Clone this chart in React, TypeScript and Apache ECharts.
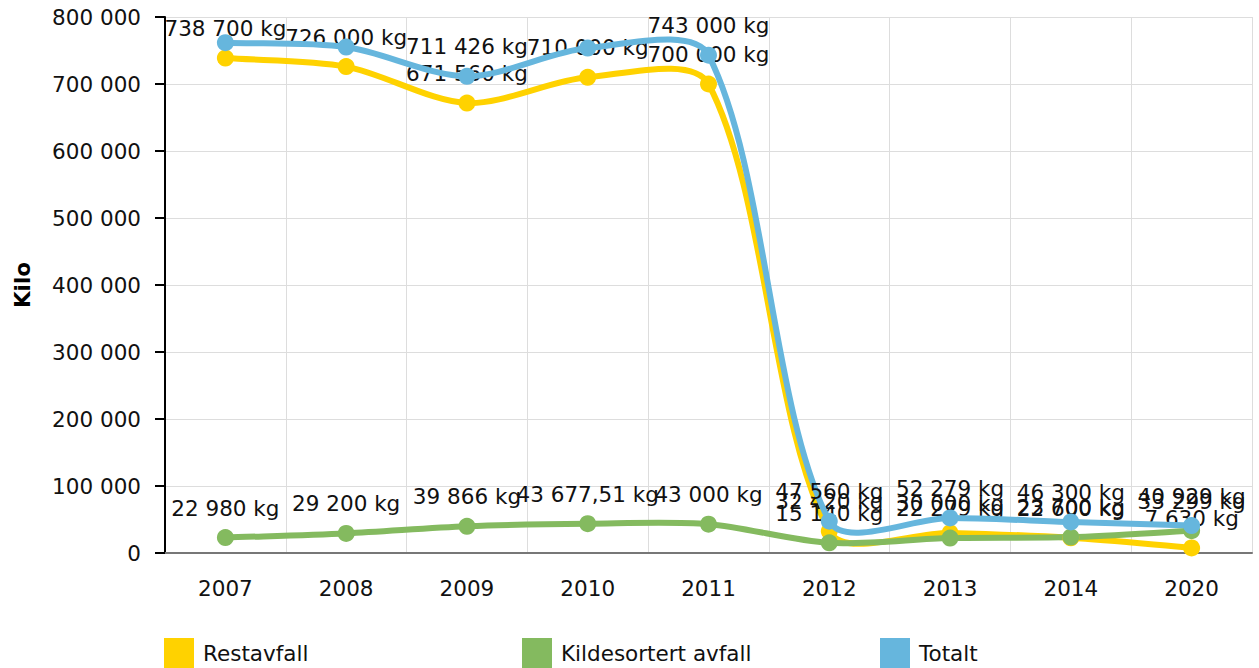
import React, { useEffect, useRef } from "react";
import * as echarts from "echarts";

const categories = ["2007", "2008", "2009", "2010", "2011", "2012", "2013", "2014", "2020"];
const restavfall = [738700, 726000, 671560, 710000, 700000, 32420, 30000, 22600, 7630];
const kildesortert = [22980, 29200, 39866, 43677.51, 43000, 15140, 22279, 23700, 33299];
const totalt = [761680, 755200, 711426, 753677.51, 743000, 47560, 52279, 46300, 40929];
const hiddenTotalLabels = ["2007", "2008", "2010"];
const yTicks = [0, 100000, 200000, 300000, 400000, 500000, 600000, 700000, 800000];

const FONT = "DejaVu Sans, Verdana, sans-serif";
const FS = 21.5;
const COLORS = { rest: "#FFD200", kilde: "#84BA5F", total: "#66B6DD" };
const SMOOTH = 0.3;

function fmt(v: number): string {
  const neg = v < 0;
  const abs = Math.abs(v);
  const [intPart, decPart] = abs.toString().split(".");
  const grouped = intPart.replace(/\B(?=(\d{3})+(?!\d))/g, " ");
  return (neg ? "-" : "") + grouped + (decPart ? "," + decPart : "");
}

// Distance-weighted smooth curve through pixel points (no clamping)
function smoothPath(pts: number[][], s: number): string {
  const n = pts.length;
  const cp0: number[][] = [];
  const cp1: number[][] = [];
  for (let i = 0; i < n; i++) {
    const cur = pts[i];
    const prev = i > 0 ? pts[i - 1] : cur;
    const next = i < n - 1 ? pts[i + 1] : cur;
    const vx = next[0] - prev[0];
    const vy = next[1] - prev[1];
    let d0 = Math.hypot(cur[0] - prev[0], cur[1] - prev[1]);
    let d1 = Math.hypot(next[0] - cur[0], next[1] - cur[1]);
    const sum = d0 + d1;
    if (sum > 0) {
      d0 /= sum;
      d1 /= sum;
    }
    cp0[i] = [cur[0] - vx * s * d0, cur[1] - vy * s * d0];
    cp1[i] = [cur[0] + vx * s * d1, cur[1] + vy * s * d1];
  }
  let d = `M${pts[0][0]},${pts[0][1]}`;
  for (let i = 1; i < n; i++) {
    d += ` C${cp1[i - 1][0]},${cp1[i - 1][1]} ${cp0[i][0]},${cp0[i][1]} ${pts[i][0]},${pts[i][1]}`;
  }
  return d;
}

export default function App() {
  const ref = useRef<HTMLDivElement>(null);
  useEffect(() => {
    if (!ref.current) return;
    const chart = echarts.init(ref.current, undefined, { renderer: "svg" });
    const label = {
      show: true,
      position: "top" as const,
      distance: 10,
      color: "#111",
      fontSize: FS,
      fontFamily: FONT,
      formatter: (p: any) => fmt(p.value) + " kg",
    };
    const curve = (values: number[], color: string, z: number) => ({
      type: "custom",
      coordinateSystem: "cartesian2d",
      silent: true,
      z,
      data: [[0, values[0]]],
      renderItem: (_params: any, api: any) => {
        const pts = values.map((v, i) => api.coord([i, v]));
        return {
          type: "path",
          shape: { pathData: smoothPath(pts, SMOOTH) },
          style: { fill: "none", stroke: color, lineWidth: 6, lineCap: "round", lineJoin: "round" },
        };
      },
    });
    const markers = (name: string, data: any[], color: string, z: number) => ({
      name,
      type: "line",
      data,
      z,
      symbol: "circle",
      symbolSize: 17,
      lineStyle: { width: 0, opacity: 0, color },
      itemStyle: { color },
      label,
    });
    const legendBase = {
      top: 638,
      padding: 0,
      icon: "rect",
      itemWidth: 30,
      itemHeight: 30,
      textStyle: { fontSize: FS, fontFamily: FONT, color: "#111", padding: [0, 0, 0, 4] },
      selectedMode: false,
    };
    chart.setOption({
      animation: false,
      backgroundColor: "#fff",
      grid: { left: 165, right: 7, top: 17, bottom: 115 },
      legend: [
        { ...legendBase, left: 164, data: ["Restavfall"] },
        { ...legendBase, left: 522, data: ["Kildesortert avfall"] },
        { ...legendBase, left: 880, data: ["Totalt"] },
      ],
      xAxis: {
        type: "category",
        data: categories,
        boundaryGap: true,
        axisLine: { lineStyle: { color: "#777", width: 2 } },
        axisTick: { alignWithLabel: true, length: 9, lineStyle: { color: "#999", width: 2 } },
        axisLabel: { color: "#111", fontSize: FS, fontFamily: FONT, margin: 24 },
        splitLine: { show: true, lineStyle: { color: "#ddd", width: 1 } },
      },
      yAxis: {
        type: "value",
        min: yTicks[0],
        max: yTicks[yTicks.length - 1],
        interval: yTicks[1] - yTicks[0],
        name: "Kilo",
        nameLocation: "middle",
        nameGap: 132,
        nameRotate: 90,
        nameTextStyle: { fontSize: FS, fontWeight: "bold", fontFamily: FONT, color: "#000" },
        axisLine: { show: true, lineStyle: { color: "#000", width: 2 } },
        axisTick: { show: true, length: 10, lineStyle: { color: "#000", width: 2 } },
        axisLabel: { color: "#111", fontSize: FS, fontFamily: FONT, margin: 24, formatter: (v: number) => fmt(v) },
        splitLine: { show: true, lineStyle: { color: "#ddd", width: 1 } },
      },
      series: [
        curve(restavfall, COLORS.rest, 2),
        markers("Restavfall", restavfall, COLORS.rest, 2),
        curve(kildesortert, COLORS.kilde, 2),
        markers("Kildesortert avfall", kildesortert, COLORS.kilde, 2),
        curve(totalt, COLORS.total, 3),
        markers(
          "Totalt",
          totalt.map((v, i) =>
            hiddenTotalLabels.includes(categories[i]) ? { value: v, label: { show: false } } : v
          ),
          COLORS.total,
          3
        ),
      ],
    });
    return () => chart.dispose();
  }, []);
  return <div ref={ref} style={{ width: 1259, height: 668, position: "absolute", left: 0, top: 0 }} />;
}
